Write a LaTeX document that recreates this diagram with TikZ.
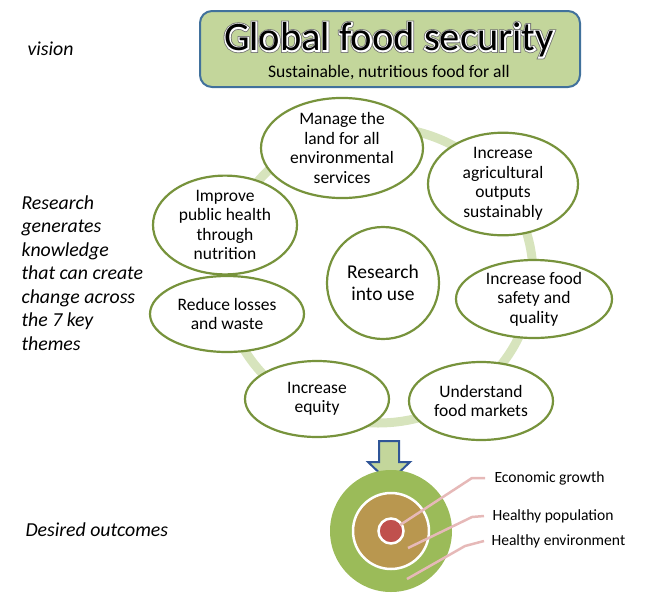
\documentclass[tikz,border=0pt]{standalone}
\usepackage{fontspec}
\setmainfont{Carlito}
\usetikzlibrary{shapes.geometric}
\definecolor{boxgreen}{HTML}{C3D69B}
\definecolor{boxblue}{HTML}{41719C}
\definecolor{arrowblue}{HTML}{2F5597}
\definecolor{themegreen}{HTML}{77933C}
\definecolor{ringgreen}{HTML}{D7E4BD}
\definecolor{envgreen}{HTML}{9BBB59}
\definecolor{poptan}{HTML}{B9974F}
\definecolor{econred}{HTML}{C0504D}
\definecolor{calloutpink}{HTML}{E6B9B8}
\newcommand{\strokedtext}[3]{\special{pdf:code q 1 Tr #1 w #2 RG}#3\special{pdf:code Q}}
\begin{document}
\begin{tikzpicture}[x=1pt, y=-1pt,
	theme/.style={ellipse, draw=themegreen, line width=2.2pt, fill=white, inner sep=0pt, align=center, font=\fontsize{17.5}{19.5}\selectfont},
	side/.style={anchor=west, align=left, font=\fontsize{19.8}{23.5}\selectfont\itshape},
	outlabel/.style={anchor=west, font=\fontsize{15.6}{17}\selectfont},
	callout/.style={draw=calloutpink, line width=2.5pt},
	ring/.style={draw=ringgreen, line width=9pt},
	titlefont/.style={font=\fontsize{40.5}{44}\selectfont}]
	
	\useasboundingbox (0,0) rectangle (648,595);
	
	\node[side] (vision) at (24,49) {vision};
	\node[side] (themes) at (18,273) {Research\\generates\\knowledge\\that can create\\change across\\the 7 key\\themes};
	\node[side] (outcomes) at (22,530) {Desired outcomes};
	
	\node[rounded corners=12pt, draw=boxblue, line width=2pt, fill=boxgreen, minimum width=380, minimum height=76] (title) at (390,49) {};
	\node[titlefont] (titleglow) at (389,40) {\strokedtext{4.2}{0.45 0.45 0.45}{Global food security}};
	\node[titlefont] (titleline) at (389,40) {\strokedtext{2.6}{1 1 1}{Global food security}};
	\node[titlefont] (titletext) at (389,40) {Global food security};
	\node[font=\fontsize{17.6}{19}\selectfont] (subtitle) at (389,73) {Sustainable, nutritious food for all};
	
	\draw[ring] (378,275) ellipse [x radius=155pt, y radius=148pt];
	
	\node[theme, minimum width=162, minimum height=88] (land) at (342,148) {Manage the\\land for all\\environmental\\services};
	\node[theme, minimum width=150, minimum height=90] (outputs) at (503,184) {Increase\\agricultural\\outputs\\sustainably};
	\node[theme, minimum width=156, minimum height=78] (safety) at (534,299) {Increase food\\safety and\\quality};
	\node[theme, minimum width=144, minimum height=78] (markets) at (481,401) {Understand\\food markets};
	\node[theme, minimum width=144, minimum height=76] (equity) at (317,399) {Increase\\equity};
	\node[theme, minimum width=154, minimum height=76] (waste) at (227,314) {Reduce losses\\and waste};
	\node[theme, minimum width=144, minimum height=78] (health) at (225,225) {Improve\\public health\\through\\nutrition};
	\node[theme, circle, minimum size=112, font=\fontsize{19.5}{22}\selectfont] (use) at (383,283) {Research\\into use};
	
	\draw[draw=arrowblue, fill=boxgreen, line width=2pt, line join=miter] (379,441) -- (399,441) -- (399,462) -- (410,462) -- (389,482) -- (368,462) -- (379,462) -- cycle;
	
	\node[circle, fill=envgreen, inner sep=0pt, minimum size=122] (env) at (391,531) {};
	\node[circle, fill=poptan, draw=white, line width=2.5pt, inner sep=0pt, minimum size=76] (pop) at (391,531) {};
	\node[circle, fill=econred, draw=white, line width=2.5pt, inner sep=0pt, minimum size=25] (econ) at (391,531) {};
	
	\node[outlabel] (econlabel) at (491,478) {Economic growth};
	\node[outlabel] (poplabel) at (489,516) {Healthy population};
	\node[outlabel] (envlabel) at (488,541) {Healthy environment};
	
	\coordinate (econpt) at (400,525);
	\coordinate (poppt) at (408,548);
	\coordinate (envpt) at (407,579);
	\draw[callout] (econpt) -- (472,478) -- ([xshift=-6pt]econlabel.west);
	\draw[callout] (poppt) -- (472,517) -- ([xshift=-5pt]poplabel.west);
	\draw[callout] (envpt) -- (465,546) -- ([xshift=-4pt]envlabel.west);
	
\end{tikzpicture}
\end{document}
